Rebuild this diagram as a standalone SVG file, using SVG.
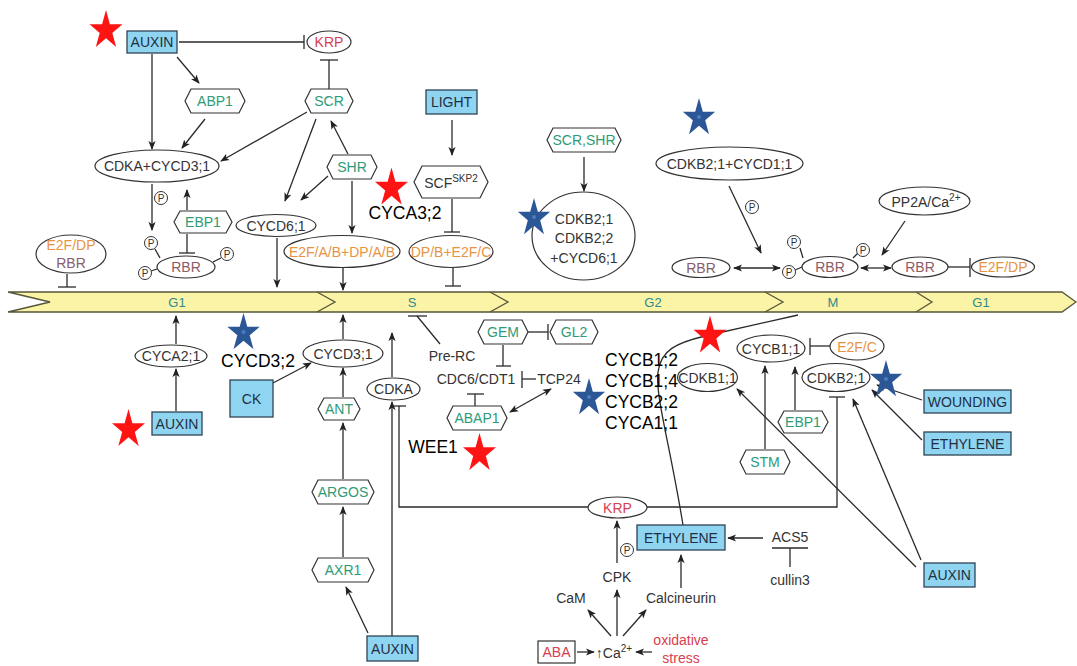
<svg xmlns="http://www.w3.org/2000/svg" width="1077" height="666" viewBox="0 0 1077 666">
<defs>
<style>
text{font-family:"Liberation Sans",Arial,sans-serif;text-anchor:middle;dominant-baseline:central}
.n{font-size:14px;fill:#333}
.g{font-size:14px;fill:#2E9B78}
.o{font-size:14px;fill:#E8933F}
.r{font-size:14px;fill:#D8404F}
.m{font-size:14px;fill:#8A5C6A}
.b{font-size:14px;fill:#1F2F3F}
.k{font-size:17.5px;fill:#000}
.bx{fill:#8FD5F2;stroke:#2E4455;stroke-width:1.3}
.el{fill:#fff;stroke:#333;stroke-width:1.2}
.hx{fill:#fff;stroke:#333;stroke-width:1.2}
.c line,.c path,.c polyline{stroke:#2a2a2a;stroke-width:1.3;fill:none}
.pc{fill:#fff;stroke:#333;stroke-width:1}
.pt{font-size:10px;fill:#333}
.ph{font-size:13px;fill:#2E8A8A}
.rs{fill:#FF1414}
.bs{fill:#2C5797}
</style>
<marker id="ah" viewBox="0 0 10 10" refX="9" refY="5" markerWidth="9" markerHeight="9" markerUnits="userSpaceOnUse" orient="auto-start-reverse"><path d="M0,1 L10,5 L0,9 L2.5,5 Z" fill="#222"/></marker>
<path id="st" d="M0,-17 L3.82,-5.26 L16.17,-5.25 L6.18,2.01 L9.99,13.75 L0,6.5 L-9.99,13.75 L-6.18,2.01 L-16.17,-5.25 L-3.82,-5.26 Z"/>
</defs>
<rect width="1077" height="666" fill="#fff"/>

<!-- cell cycle band -->
<g id="band">
<path d="M8,292 L1062,292 L1076,302 L1062,312 L8,312 L50,302 Z" fill="#FBF3A6" stroke="#55553A" stroke-width="1.3"/>
<polyline points="317,292 335,302 317,312" fill="none" stroke="#55553A" stroke-width="1.3"/>
<polyline points="490,292 508,302 490,312" fill="none" stroke="#55553A" stroke-width="1.3"/>
<polyline points="765,292 783,302 765,312" fill="none" stroke="#55553A" stroke-width="1.3"/>
<polyline points="916,292 932,302 916,312" fill="none" stroke="#55553A" stroke-width="1.3"/>
<text class="ph" x="177" y="302">G1</text>
<text class="ph" x="412" y="302">S</text>
<text class="ph" x="653" y="302">G2</text>
<text class="ph" x="833" y="302">M</text>
<text class="ph" x="981" y="302">G1</text>
</g>

<!-- connectors -->
<g id="connectors" class="c">
<line x1="179" y1="42" x2="304" y2="42"/><line x1="304" y1="35" x2="304" y2="49"/>
<line x1="329" y1="89" x2="329" y2="60"/><line x1="320" y1="60" x2="338" y2="60"/>
<line x1="177" y1="57" x2="199" y2="83" marker-end="url(#ah)"/>
<line x1="152" y1="54" x2="152" y2="149" marker-end="url(#ah)"/>
<line x1="205" y1="119" x2="182" y2="148" marker-end="url(#ah)"/>
<line x1="307" y1="112" x2="221" y2="161" marker-end="url(#ah)"/>
<line x1="316" y1="119" x2="285" y2="201" marker-end="url(#ah)"/>
<line x1="348" y1="154" x2="331" y2="121" marker-end="url(#ah)"/>
<line x1="328" y1="176" x2="301" y2="200" marker-end="url(#ah)"/>
<line x1="352" y1="181" x2="352" y2="233" marker-end="url(#ah)"/>
<line x1="152" y1="184" x2="152" y2="230" marker-end="url(#ah)"/>
<line x1="187" y1="210" x2="187" y2="190" marker-end="url(#ah)"/>
<line x1="187" y1="234" x2="187" y2="253"/><line x1="179" y1="253" x2="195" y2="253"/>
<line x1="155" y1="249" x2="160" y2="258"/><line x1="221" y1="258" x2="213" y2="262"/><line x1="151" y1="271" x2="157" y2="269"/>
<line x1="67" y1="274" x2="67" y2="287"/><line x1="58" y1="287" x2="76" y2="287"/>
<line x1="277" y1="238" x2="277" y2="287" marker-end="url(#ah)"/>
<line x1="343" y1="268" x2="343" y2="290" marker-end="url(#ah)"/>
<line x1="452" y1="120" x2="452" y2="155" marker-end="url(#ah)"/>
<line x1="452" y1="199" x2="452" y2="232"/><line x1="444" y1="232" x2="460" y2="232"/>
<line x1="453" y1="268" x2="453" y2="286"/><line x1="445" y1="286" x2="461" y2="286"/>
<line x1="584" y1="157" x2="584" y2="191" marker-end="url(#ah)"/>
<line x1="729" y1="186" x2="761" y2="253" marker-end="url(#ah)"/>
<line x1="734" y1="268" x2="780" y2="268" marker-start="url(#ah)" marker-end="url(#ah)"/>
<line x1="800" y1="248" x2="803" y2="258"/><line x1="858" y1="253" x2="853" y2="258"/><line x1="795" y1="270" x2="802" y2="267"/>
<line x1="861" y1="268" x2="891" y2="268" marker-start="url(#ah)" marker-end="url(#ah)"/>
<line x1="905" y1="221" x2="882" y2="255" marker-end="url(#ah)"/>
<line x1="948" y1="267" x2="970" y2="267"/><line x1="970" y1="258" x2="970" y2="277"/>
<line x1="176" y1="344" x2="176" y2="316" marker-end="url(#ah)"/>
<line x1="176" y1="411" x2="176" y2="369" marker-end="url(#ah)"/>
<line x1="273" y1="383" x2="311" y2="363" marker-end="url(#ah)"/>
<line x1="343" y1="339" x2="343" y2="315" marker-end="url(#ah)"/>
<line x1="343" y1="397" x2="343" y2="368" marker-end="url(#ah)"/>
<line x1="343" y1="479" x2="343" y2="423" marker-end="url(#ah)"/>
<line x1="343" y1="557" x2="343" y2="507" marker-end="url(#ah)"/>
<line x1="368" y1="633" x2="346" y2="587" marker-end="url(#ah)"/>
<line x1="392" y1="636" x2="392" y2="402" marker-end="url(#ah)"/>
<line x1="392" y1="377" x2="392" y2="333" marker-end="url(#ah)"/>
<polyline points="399,406 399,507 588,507"/>
<polyline points="646,507 837,507 837,397"/>
<line x1="392" y1="406" x2="406" y2="406"/><line x1="829" y1="397" x2="845" y2="397"/>
<line x1="440" y1="344" x2="417" y2="316"/><line x1="408" y1="316" x2="427" y2="316"/>
<line x1="528" y1="332" x2="548" y2="332"/><line x1="548" y1="324" x2="548" y2="340"/>
<line x1="503" y1="345" x2="503" y2="366"/><line x1="496" y1="366" x2="511" y2="366"/>
<line x1="536" y1="379" x2="522" y2="379"/><line x1="522" y1="371" x2="522" y2="388"/>
<line x1="475" y1="406" x2="475" y2="394"/><line x1="467" y1="394" x2="484" y2="394"/>
<line x1="510" y1="412" x2="551" y2="389" marker-start="url(#ah)" marker-end="url(#ah)"/>
<path d="M683,525 C670,445 655,395 658,372 C661,350 676,343 705,336 L798,315"/>
<line x1="830" y1="346" x2="810" y2="346"/><line x1="810" y1="338" x2="810" y2="355"/>
<line x1="765" y1="449" x2="765" y2="366" marker-end="url(#ah)"/>
<line x1="795" y1="410" x2="795" y2="367" marker-end="url(#ah)"/>
<line x1="922" y1="400" x2="877" y2="385" marker-end="url(#ah)"/>
<line x1="922" y1="440" x2="872" y2="390" marker-end="url(#ah)"/>
<line x1="916" y1="567" x2="737" y2="389" marker-end="url(#ah)"/>
<line x1="921" y1="560" x2="853" y2="399" marker-end="url(#ah)"/>
<line x1="617" y1="563" x2="617" y2="521" marker-end="url(#ah)"/>
<line x1="681" y1="588" x2="681" y2="555" marker-end="url(#ah)"/>
<line x1="763" y1="538" x2="728" y2="538" marker-end="url(#ah)"/>
<line x1="790" y1="567" x2="790" y2="548"/><line x1="772" y1="548" x2="808" y2="548"/>
<line x1="611" y1="636" x2="588" y2="610" marker-end="url(#ah)"/>
<line x1="617" y1="636" x2="617" y2="590" marker-end="url(#ah)"/>
<line x1="623" y1="636" x2="646" y2="610" marker-end="url(#ah)"/>
<line x1="577" y1="652" x2="594" y2="652" marker-end="url(#ah)"/>
<line x1="652" y1="652" x2="636" y2="652" marker-end="url(#ah)"/>
</g>

<!-- phosphate labels on arrows -->
<g id="p-labels">
<circle class="pc" cx="161" cy="198" r="6.5"/><text class="pt" x="161" y="198">P</text>
<circle class="pc" cx="752" cy="207" r="6.5"/><text class="pt" x="752" y="207">P</text>
<circle class="pc" cx="627" cy="550" r="6.5"/><text class="pt" x="627" y="550">P</text>
</g>

<g id="auxin1"><rect class="bx" x="127" y="31" width="50" height="22"/><text class="b" x="152" y="42">AUXIN</text></g>
<g id="krp1"><ellipse class="el" cx="329" cy="42" rx="22" ry="11"/><text class="r" x="329" y="42">KRP</text></g>
<g id="abp1"><polygon class="hx" points="185,101 191,89 239,89 245,101 239,113 191,113"/><text class="g" x="215" y="101">ABP1</text></g>
<g id="scr"><polygon class="hx" points="305,101 311,89 347,89 353,101 347,113 311,113"/><text class="g" x="329" y="101">SCR</text></g>
<g id="cdka-cycd31"><ellipse class="el" cx="157" cy="166" rx="62" ry="16"/><text class="n" x="157" y="166">CDKA+CYCD3;1</text></g>
<g id="shr"><polygon class="hx" points="327,167 333,155 371,155 377,167 371,179 333,179"/><text class="g" x="352" y="167">SHR</text></g>
<g id="light"><rect class="bx" x="426" y="90" width="51" height="24"/><text class="b" x="451.5" y="102">LIGHT</text></g>
<g id="scf"><polygon class="hx" points="414,182 422,166 480,166 488,182 480,198 422,198"/><text class="n" x="451" y="183">SCF<tspan font-size="10" dy="-5">SKP2</tspan></text></g>
<g id="scr-shr"><polygon class="hx" points="547,140 553,128 615,128 621,140 615,152 553,152"/><text class="g" x="584" y="140">SCR,SHR</text></g>
<g id="cdkb-cycd61"><ellipse class="el" cx="583.5" cy="236" rx="51.5" ry="44"/><text class="n" x="584" y="219" font-size="15">CDKB2;1</text><text class="n" x="584" y="238" font-size="15">CDKB2;2</text><text class="n" x="584" y="258" font-size="15">+CYCD6;1</text></g>
<g id="cdkb21-cycd11"><ellipse class="el" cx="729.5" cy="163.5" rx="73.5" ry="16.5"/><text class="n" x="729.5" y="163.5">CDKB2;1+CYCD1;1</text></g>
<g id="pp2a"><ellipse class="el" cx="924.5" cy="201" rx="45.5" ry="14"/><text class="n" x="926" y="202">PP2A/Ca<tspan font-size="10" dy="-5">2+</tspan></text></g>
<g id="e2fdp-rbr"><ellipse class="el" cx="71" cy="254" rx="35" ry="19"/><text class="o" x="71" y="245">E2F/DP</text><text class="m" x="71" y="263">RBR</text></g>
<g id="ebp1a"><polygon class="hx" points="174,222 180,211 226,211 232,222 226,233 180,233"/><text class="g" x="203" y="222">EBP1</text></g>
<g id="rbr1"><ellipse class="el" cx="186" cy="267" rx="29" ry="11"/><text class="m" x="186" y="267">RBR</text>
<circle class="pc" cx="151" cy="243" r="6.5"/><text class="pt" x="151" y="243">P</text>
<circle class="pc" cx="227" cy="254" r="6.5"/><text class="pt" x="227" y="254">P</text>
<circle class="pc" cx="145" cy="273" r="6.5"/><text class="pt" x="145" y="273">P</text></g>
<g id="cycd61"><ellipse class="el" cx="276" cy="225.5" rx="40" ry="11"/><text class="n" x="276" y="225.5">CYCD6;1</text></g>
<g id="e2fab"><ellipse class="el" cx="342" cy="251.5" rx="58" ry="16"/><text class="o" x="342" y="251.5">E2F/A/B+DP/A/B</text></g>
<g id="dpb-e2fc"><ellipse class="el" cx="451" cy="251.5" rx="42" ry="16"/><text class="o" x="451" y="251.5">DP/B+E2F/C</text></g>
<g id="rbr2"><ellipse class="el" cx="701" cy="267.5" rx="29" ry="10"/><text class="m" x="701" y="267.5">RBR</text></g>
<g id="rbr3"><ellipse class="el" cx="830" cy="267" rx="28" ry="10.5"/><text class="m" x="830" y="267">RBR</text>
<circle class="pc" cx="794" cy="242" r="6.5"/><text class="pt" x="794" y="242">P</text>
<circle class="pc" cx="863" cy="250" r="6.5"/><text class="pt" x="863" y="250">P</text>
<circle class="pc" cx="789" cy="272" r="6.5"/><text class="pt" x="789" y="272">P</text></g>
<g id="rbr4"><ellipse class="el" cx="920" cy="267" rx="28" ry="10"/><text class="m" x="920" y="267">RBR</text></g>
<g id="e2fdp"><ellipse class="el" cx="1003" cy="267" rx="31.5" ry="10"/><text class="o" x="1003" y="267">E2F/DP</text></g>

<g id="cyca21"><ellipse class="el" cx="171" cy="356" rx="36" ry="11"/><text class="n" x="171" y="356">CYCA2;1</text></g>
<g id="auxin2"><rect class="bx" x="152" y="412" width="50" height="23"/><text class="b" x="177" y="423.5">AUXIN</text></g>
<g id="ck"><rect class="bx" x="230" y="380" width="43" height="37"/><text class="b" x="251.5" y="398.5" font-size="15">CK</text></g>
<g id="cycd31"><ellipse class="el" cx="343" cy="353.5" rx="40" ry="13.5"/><text class="n" x="343" y="353.5">CYCD3;1</text></g>
<g id="ant"><polygon class="hx" points="318,409 324,398 354,398 360,409 354,420 324,420"/><text class="g" x="339" y="409">ANT</text></g>
<g id="argos"><polygon class="hx" points="312,492 318,480 368,480 374,492 368,504 318,504"/><text class="g" x="343" y="492">ARGOS</text></g>
<g id="axr1"><polygon class="hx" points="312,570 318,558 368,558 374,570 368,582 318,582"/><text class="g" x="343" y="570">AXR1</text></g>
<g id="auxin3"><rect class="bx" x="367" y="636" width="51" height="25"/><text class="b" x="392.5" y="648.5">AUXIN</text></g>
<g id="cdka"><ellipse class="el" cx="393.5" cy="389" rx="26.5" ry="11"/><text class="n" x="393.5" y="389">CDKA</text></g>
<g id="gem"><polygon class="hx" points="478,332 484,320 522,320 528,332 522,344 484,344"/><text class="g" x="503" y="332">GEM</text></g>
<g id="gl2"><polygon class="hx" points="550,332 556,320 592,320 598,332 592,344 556,344"/><text class="g" x="574" y="332">GL2</text></g>
<g id="prerc"><text class="n" x="452" y="356">Pre-RC</text></g>
<g id="cdc6"><text class="n" x="476" y="379">CDC6/CDT1</text></g>
<g id="tcp24"><text class="n" x="559" y="379">TCP24</text></g>
<g id="abap1"><polygon class="hx" points="447,418 453,406 501,406 507,418 501,430 453,430"/><text class="g" x="477" y="418">ABAP1</text></g>

<g id="cycb11"><ellipse class="el" cx="771" cy="348.5" rx="34" ry="13.5"/><text class="n" x="771" y="348.5">CYCB1;1</text></g>
<g id="e2fc"><ellipse class="el" cx="857" cy="346.5" rx="27" ry="13.5"/><text class="o" x="857" y="346.5">E2F/C</text></g>
<g id="cdkb11"><ellipse class="el" cx="707.5" cy="377.5" rx="30" ry="14"/><text class="n" x="707.5" y="377.5">CDKB1;1</text></g>
<g id="cdkb21"><ellipse class="el" cx="836" cy="377.5" rx="34" ry="14"/><text class="n" x="836" y="377.5">CDKB2;1</text></g>
<g id="stm"><polygon class="hx" points="740,462 746,450 784,450 790,462 784,474 746,474"/><text class="g" x="765" y="462">STM</text></g>
<g id="ebp1b"><polygon class="hx" points="778,422 784,411 822,411 828,422 822,433 784,433"/><text class="g" x="803" y="422">EBP1</text></g>
<g id="wounding"><rect class="bx" x="924" y="390" width="87" height="23"/><text class="b" x="967.5" y="401.5">WOUNDING</text></g>
<g id="ethylene2"><rect class="bx" x="924" y="432" width="87" height="23"/><text class="b" x="967.5" y="443.5">ETHYLENE</text></g>
<g id="auxin4"><rect class="bx" x="924" y="563" width="51" height="24"/><text class="b" x="949.5" y="575">AUXIN</text></g>

<g id="krp2"><ellipse class="el" cx="617.5" cy="507.5" rx="29.5" ry="10.5"/><text class="r" x="617.5" y="507.5">KRP</text></g>
<g id="ethylene1"><rect class="bx" x="637" y="525" width="88" height="25"/><text class="b" x="681" y="537.5">ETHYLENE</text></g>
<g id="acs5"><text class="n" x="790" y="537">ACS5</text></g>
<g id="cullin3"><text class="n" x="790" y="580">cullin3</text></g>
<g id="cpk"><text class="n" x="617" y="577">CPK</text></g>
<g id="cam"><text class="n" x="571" y="598">CaM</text></g>
<g id="calcineurin"><text class="n" x="681" y="598">Calcineurin</text></g>
<g id="aba"><rect x="538" y="641" width="37" height="22" fill="#fff" stroke="#333" stroke-width="1.2"/><text class="r" x="556.5" y="652">ABA</text></g>
<g id="ca"><text class="n" x="614" y="653">↑Ca<tspan font-size="10" dy="-5">2+</tspan></text></g>
<g id="oxstress"><text class="r" x="681" y="640">oxidative</text><text class="r" x="681" y="658">stress</text></g>

<!-- annotations -->
<g id="annotations">
<text class="k" x="405" y="213">CYCA3;2</text>
<text class="k" x="258" y="361">CYCD3;2</text>
<text class="k" x="433" y="447">WEE1</text>
<text class="k" x="605" y="360" style="text-anchor:start">CYCB1;2</text>
<text class="k" x="605" y="381" style="text-anchor:start">CYCB1;4</text>
<text class="k" x="605" y="402" style="text-anchor:start">CYCB2;2</text>
<text class="k" x="605" y="423" style="text-anchor:start">CYCA1;1</text>
</g>

<g id="stars">
<use href="#st" class="rs" transform="translate(106,30.5) scale(1.02,1.2)"/>
<use href="#st" class="rs" transform="translate(391.5,188) scale(1.02,1.2)"/>
<use href="#st" class="rs" transform="translate(128.5,429.5) scale(1.02,1.2)"/>
<use href="#st" class="rs" transform="translate(479.5,453.5) scale(1.02,1.2)"/>
<use href="#st" class="rs" transform="translate(710,336) scale(1.02,1.2)"/>
<use href="#st" class="bs" transform="translate(699,118) scale(1,1.18)"/>
<use href="#st" class="bs" transform="translate(534,218) scale(1,1.18)"/>
<use href="#st" class="bs" transform="translate(243.5,333) scale(1,1.18)"/>
<use href="#st" class="bs" transform="translate(589,398) scale(1,1.18)"/>
<use href="#st" class="bs" transform="translate(886,380) scale(1,1.18)"/>
<g fill="#4A7CC0">
<circle cx="699" cy="117" r="2"/><circle cx="534" cy="217" r="2"/><circle cx="243.5" cy="332" r="2"/><circle cx="589" cy="397" r="2"/><circle cx="886" cy="379" r="2"/>
</g>
</g>
</svg>
